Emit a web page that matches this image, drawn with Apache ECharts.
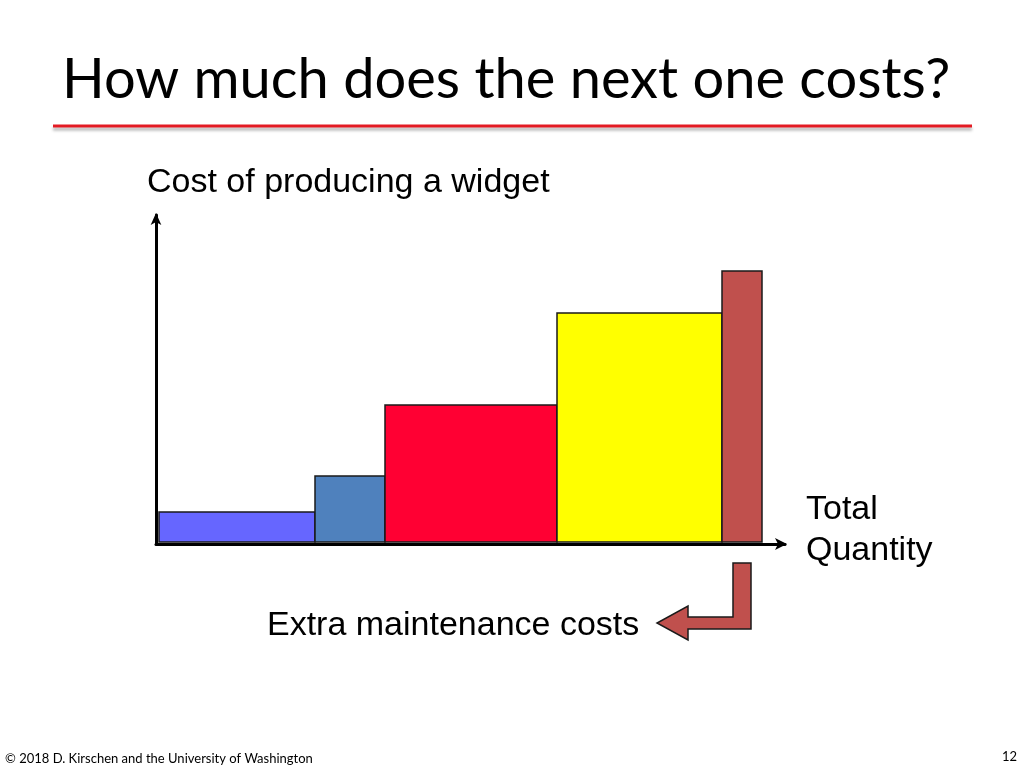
<!DOCTYPE html>
<html>
<head>
<meta charset="utf-8">
<title>How much does the next one costs?</title>
<script src="https://cdn.jsdelivr.net/npm/echarts@6/dist/echarts.min.js"></script>
<style>
  html, body { margin: 0; padding: 0; background: #fff; }
  #chart { width: 1024px; height: 768px; }
</style>
</head>
<body>
<div id="chart"></div>
<script>
// quantity boundaries of each production step (left edge, right edge)
const stepStart = [3, 159, 229, 401, 566];
const stepEnd = [159, 229, 401, 566, 606];
// cost per unit of each step
const stepCost = [32, 68, 139, 231, 273];
const stepColors = ['#6666ff', '#4f81bd', '#ff0033', '#ffff00', '#c0504d'];

const chart = echarts.init(document.getElementById('chart'));

const stepData = stepCost.map((cost, i) => [stepStart[i], stepEnd[i], cost, i]);

chart.setOption({
  backgroundColor: '#fff',
  animation: false,
  grid: { left: 156, right: 239, top: 215, bottom: 224 },
  xAxis: {
    type: 'value',
    min: 0,
    max: 629,
    axisLine: {
      show: true,
      symbol: ['none', 'arrow'],
      symbolSize: [9, 12],
      symbolOffset: [0, 2],
      lineStyle: { color: '#000', width: 3 },
    },
    axisTick: { show: false },
    axisLabel: { show: false },
    splitLine: { show: false },
  },
  yAxis: {
    type: 'value',
    min: 0,
    max: 329,
    axisLine: {
      show: true,
      symbol: ['none', 'arrow'],
      symbolSize: [8, 12],
      symbolOffset: [0, 2],
      lineStyle: { color: '#000', width: 3 },
    },
    axisTick: { show: false },
    axisLabel: { show: false },
    splitLine: { show: false },
  },
  series: [
    {
      type: 'custom',
      data: stepData,
      encode: { x: [0, 1], y: 2 },
      renderItem(params, api) {
        const topLeft = api.coord([api.value(0), api.value(2)]);
        const bottomRight = api.coord([api.value(1), 0]);
        return {
          type: 'rect',
          shape: {
            x: topLeft[0],
            y: topLeft[1],
            width: bottomRight[0] - topLeft[0],
            height: bottomRight[1] - topLeft[1] - 2,
          },
          style: {
            fill: stepColors[api.value(3)],
            stroke: '#1a1a1a',
            lineWidth: 1.5,
          },
        };
      },
    },
  ],
  graphic: [
    {
      type: 'text',
      left: 62,
      top: 52,
      style: {
        text: 'How much does the next one costs?',
        font: '56px Lato',
        fill: '#000',
      },
    },
    {
      type: 'line',
      shape: { x1: 53, y1: 126, x2: 972, y2: 126 },
      style: {
        stroke: '#e31b23',
        lineWidth: 3,
        shadowColor: 'rgba(0,0,0,0.3)',
        shadowBlur: 3,
        shadowOffsetY: 3,
      },
    },
    {
      type: 'text',
      left: 147,
      top: 166,
      style: {
        text: 'Cost of producing a widget',
        font: '34px "Liberation Sans", Arial',
        fill: '#000',
      },
    },
    {
      type: 'text',
      left: 806,
      top: 489,
      style: {
        text: 'Total\nQuantity',
        font: '34px "Liberation Sans", Arial',
        lineHeight: 41,
        fill: '#000',
      },
    },
    {
      type: 'text',
      left: 267,
      top: 609,
      style: {
        text: 'Extra maintenance costs',
        font: '34px "Liberation Sans", Arial',
        fill: '#000',
      },
    },
    {
      type: 'polygon',
      shape: {
        points: [
          [733, 563], [751, 563], [751, 629], [688, 629], [688, 640],
          [657, 623], [688, 606], [688, 617], [733, 617],
        ],
      },
      style: { fill: '#c0504d', stroke: '#1a1a1a', lineWidth: 1.5 },
    },
    {
      type: 'text',
      left: 5,
      top: 752,
      style: {
        text: '© 2018 D. Kirschen and the University of Washington',
        font: '13px Lato',
        fill: '#000',
      },
    },
    {
      type: 'text',
      left: 1002,
      top: 750,
      style: {
        text: '12',
        font: '13px Lato',
        fill: '#000',
      },
    },
  ],
});
</script>
</body>
</html>
